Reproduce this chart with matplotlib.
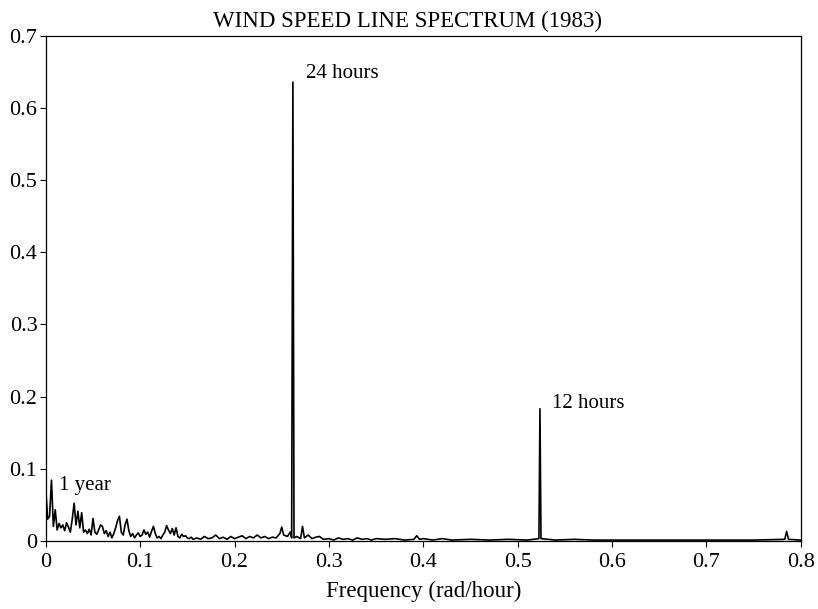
import matplotlib
matplotlib.use("Agg")
import matplotlib.pyplot as plt

plt.rcParams['font.family'] = ['Liberation Serif', 'DejaVu Serif']

# spectrum: frequency (rad/hour) and amplitude
freq = [0.000, 0.002, 0.004, 0.006, 0.008, 0.010, 0.012, 0.014, 0.016, 0.018,
        0.020, 0.022, 0.024, 0.026, 0.028, 0.030, 0.032, 0.034, 0.036, 0.038,
        0.040, 0.042, 0.044, 0.046, 0.048, 0.050, 0.052, 0.054, 0.056, 0.058,
        0.060, 0.062, 0.064, 0.066, 0.068, 0.070, 0.072, 0.074, 0.076, 0.078,
        0.080, 0.082, 0.084, 0.086, 0.088, 0.090, 0.092, 0.094, 0.096, 0.098,
        0.100, 0.102, 0.104, 0.106, 0.108, 0.110, 0.112, 0.114, 0.116, 0.118,
        0.120, 0.122, 0.124, 0.126, 0.128, 0.130, 0.132, 0.134, 0.136, 0.138,
        0.140, 0.142, 0.144, 0.146, 0.148, 0.150, 0.152, 0.154, 0.156, 0.160,
        0.164, 0.168, 0.172, 0.176, 0.180, 0.184, 0.188, 0.192, 0.196, 0.200,
        0.204, 0.208, 0.212, 0.216, 0.220, 0.224, 0.228, 0.232, 0.236, 0.240,
        0.244, 0.248, 0.250, 0.252, 0.256, 0.259, 0.2605, 0.2618, 0.2630, 0.266,
        0.270, 0.272, 0.274, 0.278, 0.282, 0.286, 0.290, 0.294, 0.300, 0.305,
        0.310, 0.315, 0.320, 0.325, 0.330, 0.335, 0.340, 0.345, 0.350, 0.360,
        0.370, 0.380, 0.390, 0.393, 0.396, 0.400, 0.410, 0.420, 0.430, 0.450,
        0.470, 0.490, 0.510, 0.5225, 0.5236, 0.5247,
        0.540, 0.560, 0.580, 0.600, 0.650, 0.700, 0.750, 0.783, 0.785, 0.787,
        0.800]
amp = [0.071, 0.030, 0.034, 0.084, 0.020, 0.043, 0.015, 0.024, 0.018, 0.022,
       0.014, 0.025, 0.019, 0.012, 0.030, 0.052, 0.022, 0.041, 0.018, 0.039,
       0.012, 0.015, 0.010, 0.016, 0.008, 0.031, 0.012, 0.009, 0.015, 0.022,
       0.020, 0.010, 0.014, 0.006, 0.012, 0.004, 0.010, 0.018, 0.028, 0.034,
       0.012, 0.008, 0.022, 0.030, 0.014, 0.006, 0.010, 0.004, 0.008, 0.011,
       0.006, 0.008, 0.015, 0.009, 0.012, 0.005, 0.013, 0.020, 0.010, 0.004,
       0.006, 0.003, 0.008, 0.012, 0.021, 0.015, 0.010, 0.017, 0.008, 0.018,
       0.006, 0.004, 0.009, 0.006, 0.007, 0.004, 0.003, 0.005, 0.002, 0.004,
       0.002, 0.006, 0.003, 0.004, 0.008, 0.003, 0.005, 0.002, 0.006, 0.003,
       0.005, 0.007, 0.003, 0.006, 0.004, 0.008, 0.004, 0.006, 0.003, 0.005,
       0.004, 0.010, 0.019, 0.008, 0.006, 0.012, 0.004, 0.636, 0.004, 0.006,
       0.003, 0.020, 0.004, 0.008, 0.003, 0.005, 0.006, 0.002, 0.003, 0.001,
       0.004, 0.002, 0.003, 0.001, 0.004, 0.002, 0.003, 0.001, 0.003, 0.002,
       0.003, 0.001, 0.002, 0.007, 0.002, 0.003, 0.001, 0.003, 0.001, 0.002,
       0.001, 0.002, 0.001, 0.003, 0.183, 0.003,
       0.001, 0.002, 0.001, 0.001, 0.001, 0.001, 0.001, 0.002, 0.013, 0.002,
       0.001]

xticks = [0, 0.1, 0.2, 0.3, 0.4, 0.5, 0.6, 0.7, 0.8]
xtick_labels = ['0', '0.1', '0.2', '0.3', '0.4', '0.5', '0.6', '0.7', '0.8']
yticks = [0, 0.1, 0.2, 0.3, 0.4, 0.5, 0.6, 0.7]
ytick_labels = ['0', '0.1', '0.2', '0.3', '0.4', '0.5', '0.6', '0.7']

fig = plt.figure(figsize=(8.18, 6.09), dpi=100)
ax = fig.add_axes([0.056, 0.112, 0.923, 0.829])

ax.plot(freq, amp, color='black', lw=1.2)

ax.set_xlim(0, 0.8)
ax.set_ylim(0, 0.7)
ax.set_xticks(xticks)
ax.set_xticklabels(xtick_labels)
ax.set_yticks(yticks)
ax.set_yticklabels(ytick_labels)
ax.tick_params(direction='out', length=4, width=0.8, labelsize=16)
ax.tick_params(axis='x', pad=5)
ax.tick_params(axis='y', pad=2)
for s in ax.spines.values():
    s.set_linewidth(0.9)

ax.set_xlabel('Frequency (rad/hour)', fontsize=16.5, labelpad=6)
fig.text(0.498, 0.964, 'WIND SPEED LINE SPECTRUM (1983)', ha='center',
         va='center', fontsize=16.5)

ax.text(0.014, 0.076, '1 year', fontsize=15, va='center')
ax.text(0.276, 0.648, '24 hours', fontsize=15, va='center')
ax.text(0.536, 0.190, '12 hours', fontsize=15, va='center')

fig.savefig('out.png', dpi=100)
